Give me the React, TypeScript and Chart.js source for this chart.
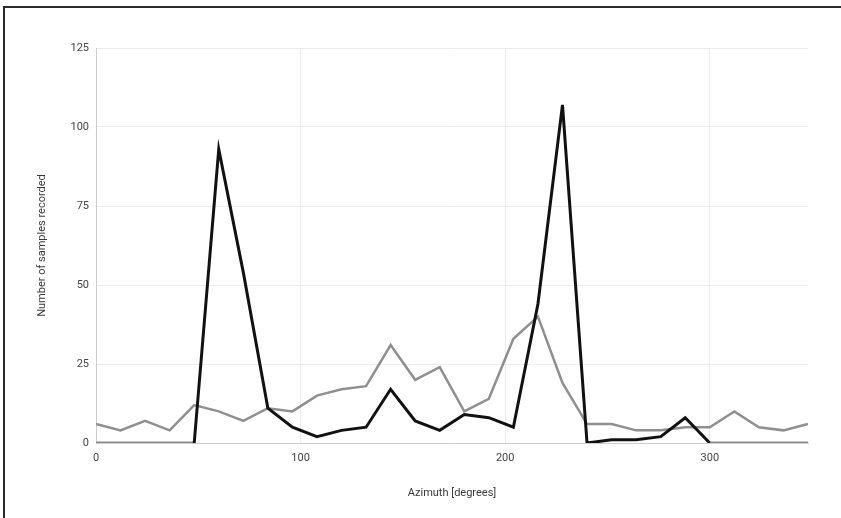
import React, { useEffect, useRef } from "react";
import { Chart, registerables } from "chart.js";

Chart.register(...registerables);

const azimuth = [0, 12, 24, 36, 48, 60, 72, 84, 96, 108, 120, 132, 144, 156, 168, 180, 192, 204, 216, 228, 240, 252, 264, 276, 288, 300, 312, 324, 336, 348];
const seriesBlack = [0, 0, 0, 0, 0, 93, 54, 11, 5, 2, 4, 5, 17, 7, 4, 9, 8, 5, 44, 107, 0, 1, 1, 2, 8, 0, 0, 0, 0, 0];
const seriesGray = [6, 4, 7, 4, 12, 10, 7, 11, 10, 15, 17, 18, 31, 20, 24, 10, 14, 33, 40, 19, 6, 6, 4, 4, 5, 5, 10, 5, 4, 6];
const xTicks = [0, 100, 200, 300];
const yTicks = [0, 25, 50, 75, 100, 125];

export default function App() {
  const ref = useRef<HTMLCanvasElement | null>(null);

  useEffect(() => {
    if (!ref.current) return;
    const font = { family: "Roboto, 'Noto Sans', sans-serif", size: 11 };
    const chart = new Chart(ref.current, {
      type: "line",
      data: {
        datasets: [
          {
            label: "A",
            data: azimuth.map((x, i) => ({ x, y: seriesBlack[i] })),
            borderColor: "#111111",
            borderWidth: 3,
            pointRadius: 0,
            tension: 0,
            segment: {
              borderColor: (ctx: any) =>
                ctx.p0.parsed.y === 0 && ctx.p1.parsed.y === 0 ? "#8a8a8a" : "#111111",
            },
          },
          {
            label: "B",
            data: azimuth.map((x, i) => ({ x, y: seriesGray[i] })),
            borderColor: "#8f8f8f",
            borderWidth: 2.5,
            pointRadius: 0,
            tension: 0,
          },
        ],
      },
      options: {
        animation: false,
        responsive: false,
        layout: { padding: { left: 0, top: 48, right: 33, bottom: 0 } },
        plugins: { legend: { display: false }, tooltip: { enabled: false } },
        scales: {
          x: {
            type: "linear",
            min: 0,
            max: 348,
            afterFit: (s: any) => {
              s.height = 75;
            },
            afterBuildTicks: (s: any) => {
              s.ticks = xTicks.map((v) => ({ value: v }));
            },
            ticks: { font, color: "#444", padding: 9, includeBounds: false },
            grid: { color: "#ececec", drawTicks: false },
            border: { color: "#cccccc", width: 1 },
            title: {
              display: true,
              text: "Azimuth [degrees]",
              font,
              color: "#3a3a3a",
              padding: { top: 0, bottom: 18 },
            },
          },
          y: {
            min: 0,
            max: 125,
            afterFit: (s: any) => {
              s.width = 96;
            },
            afterBuildTicks: (s: any) => {
              s.ticks = yTicks.map((v) => ({ value: v }));
            },
            ticks: { font, color: "#444", padding: 7 },
            grid: { color: "#ececec", drawTicks: false },
            border: { color: "#cccccc", width: 1 },
            title: {
              display: true,
              text: "Number of samples recorded",
              font,
              color: "#3a3a3a",
              padding: { top: 35.4, bottom: 0 },
            },
          },
        },
      },
    });
    return () => chart.destroy();
  }, []);

  return (
    <div style={{ position: "absolute", left: 0, top: 0, width: 841, height: 518, background: "#fff" }}>
      <canvas ref={ref} width={841} height={518} style={{ position: "absolute", left: 0, top: 0 }} />
      <div
        style={{
          position: "absolute",
          left: 3,
          top: 6,
          width: 838,
          height: 512,
          borderLeft: "2px solid #2a2a2a",
          borderTop: "2px solid #2a2a2a",
          boxSizing: "border-box",
          pointerEvents: "none",
        }}
      />
    </div>
  );
}
